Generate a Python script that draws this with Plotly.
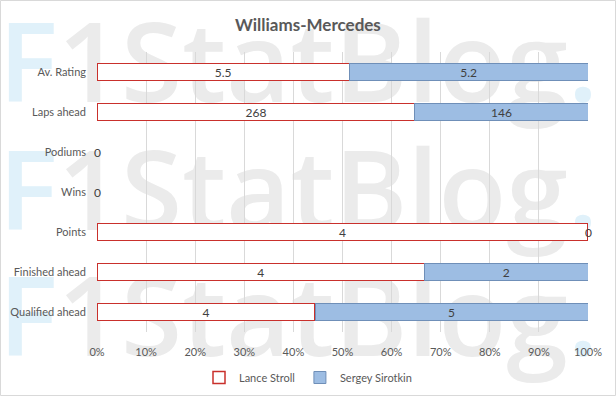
import plotly.graph_objects as go

# ---- data ----
categories = ["Av. Rating", "Laps ahead", "Podiums", "Wins", "Points", "Finished ahead", "Qualified ahead"]
stroll = [5.5, 268, 0, 0, 4, 4, 4]
sirotkin = [5.2, 146, 0, 0, 0, 2, 5]
stroll_labels = ["5.5", "268", "0", "0", "4", "4", "4"]
sirotkin_labels = ["5.2", "146", "0", "0", "0", "2", "5"]
x_ticks = [0, 10, 20, 30, 40, 50, 60, 70, 80, 90, 100]
x_tick_labels = [f"{v}%" for v in x_ticks]
title_text = "Williams-Mercedes"
watermark = "<span style='color:#e0f1fa'>F</span>1StatBlog<span style='color:#e0f1fa'>.</span>"
watermark_rows = [0.92, 0.465, 0.012]

W, H = 616, 396
ML, MR, MT, MB = 97, 28, 52, 64
PW, PH = W - ML - MR, H - MT - MB
FONT = "Lato, Liberation Sans, sans-serif"
TXT = "#595959"

fig = go.Figure()

# watermark (background subplot)
fig.add_trace(go.Scatter(
    x=[0.41] * len(watermark_rows), y=watermark_rows, mode="text",
    text=[watermark] * len(watermark_rows), textposition="middle center",
    textfont=dict(family="Open Sans", size=111, color="#ebebeb", weight=600),
    cliponaxis=False, showlegend=False, hoverinfo="skip",
    xaxis="x", yaxis="y"))

# bars
fig.add_trace(go.Bar(
    y=categories, x=stroll, orientation="h", name="Lance Stroll",
    text=[l if v else "" for l, v in zip(stroll_labels, stroll)],
    textposition="inside", insidetextanchor="middle", textangle=0, constraintext="none",
    textfont=dict(family=FONT, size=12, color="#404040"),
    marker=dict(color="#ffffff", line=dict(color="#c9302c", width=1.5)),
    xaxis="x2", yaxis="y2", hoverinfo="skip"))
fig.add_trace(go.Bar(
    y=categories, x=sirotkin, orientation="h", name="Sergey Sirotkin",
    text=[l if v else "" for l, v in zip(sirotkin_labels, sirotkin)],
    textposition="inside", insidetextanchor="middle", textangle=0, constraintext="none",
    textfont=dict(family=FONT, size=12, color="#404040"),
    marker=dict(color="#9dbde3", line=dict(color="#6f8fb8", width=1)),
    xaxis="x2", yaxis="y2", hoverinfo="skip"))

# labels for zero-length segments, placed at their stacked percentage position
annotations = []
seen = set()
for c, s, t, ls, lt in zip(categories, stroll, sirotkin, stroll_labels, sirotkin_labels):
    total = s + t
    if s == 0:
        pos = 0.0
        if (c, pos) not in seen:
            seen.add((c, pos))
            annotations.append(dict(x=pos, y=c, text=ls))
    if t == 0:
        pos = 100.0 * s / total if total else 0.0
        if (c, pos) not in seen:
            seen.add((c, pos))
            annotations.append(dict(x=pos, y=c, text=lt))
for a in annotations:
    a.update(xref="x2", yref="y2", showarrow=False, xanchor="center",
             font=dict(family=FONT, size=12, color="#404040"))

annotations.append(dict(text=f"<b>{title_text}</b>", x=0.5 - (ML - MR) / 2 / PW,
                        y=1 + (MT - 25) / PH, xref="paper", yref="paper",
                        xanchor="center", yanchor="middle", showarrow=False,
                        font=dict(family=FONT, size=17, color=TXT)))

fig.update_layout(
    width=W, height=H,
    margin=dict(l=ML, r=MR, t=MT, b=MB, pad=0),
    paper_bgcolor="white", plot_bgcolor="rgba(0,0,0,0)",
    barmode="stack", barnorm="percent", bargap=0.575,
    annotations=annotations,
    xaxis=dict(domain=[0, 1], range=[0, 1], visible=False, fixedrange=True),
    yaxis=dict(domain=[0, 1], range=[0, 1], visible=False, fixedrange=True),
    xaxis2=dict(domain=[0, 1], anchor="y2", range=[0, 100], tickvals=x_ticks, ticktext=x_tick_labels,
                showgrid=True, gridcolor="#d9d9d9", gridwidth=1, zeroline=False, showline=False,
                automargin=False,
                ticks="", tickfont=dict(family=FONT, size=11, color=TXT), ticklabelstandoff=12),
    yaxis2=dict(domain=[0, 1], anchor="x2", autorange="reversed", type="category",
                showgrid=False, zeroline=False, showline=False, ticks="", automargin=False,
                tickfont=dict(family=FONT, size=11, color=TXT), ticklabelstandoff=10),
    showlegend=True,
    legend=dict(orientation="h", x=0.5, xanchor="center", xref="container",
                y=4 / H, yanchor="bottom", yref="container", traceorder="normal",
                font=dict(family=FONT, size=11, color=TXT), bgcolor="rgba(0,0,0,0)",
                itemwidth=30, tracegroupgap=0),
    shapes=[dict(type="rect", xref="paper", yref="paper",
                 x0=-(ML - 0.5) / PW, x1=1 + (MR - 0.5) / PW,
                 y0=-(MB - 0.5) / PH, y1=1 + (MT - 0.5) / PH,
                 line=dict(color="#d9d9d9", width=1))],
)

fig.write_html("out.html")
